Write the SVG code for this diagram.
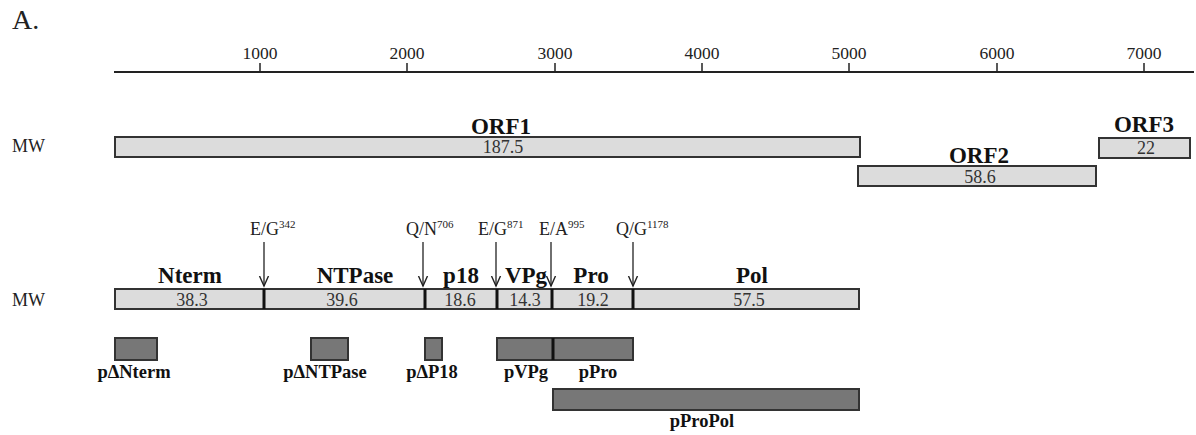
<svg xmlns="http://www.w3.org/2000/svg" width="1196" height="435" viewBox="0 0 1196 435">
<defs>
<style>
text{font-family:"Liberation Serif","Times New Roman",serif;fill:#222}
.ax{font-size:17.5px;text-anchor:middle}
.big{font-size:23px;font-weight:bold;text-anchor:middle;fill:#111}
.num{font-size:18px;text-anchor:middle;fill:#333}
.cl{font-size:18px}
.sup{font-size:11px}
.mw{font-size:18px}
.prod{font-size:18.5px;font-weight:bold;text-anchor:middle;fill:#111}
.lt{fill:#dcdcdc;stroke:#333;stroke-width:2}
.dk{fill:#777;stroke:#333;stroke-width:2}
.div{stroke:#111;stroke-width:3}
.arr{stroke:#222;stroke-width:1.3;fill:none}
</style>
<marker id="ah" markerWidth="12" markerHeight="12" refX="10" refY="5" orient="auto" markerUnits="userSpaceOnUse" viewBox="0 0 12 10">
<path d="M0,0.5 L10,5 L0,9.5" fill="none" stroke="#222" stroke-width="1.4"/>
</marker>
</defs>
<rect width="1196" height="435" fill="#fff"/>
<text x="12" y="29" style="font-size:28px">A.</text>
<g id="axis">
<line x1="114" y1="72" x2="1194" y2="72" stroke="#222" stroke-width="2.2"/>
<g stroke="#222" stroke-width="1.5">
<line x1="260" y1="63" x2="260" y2="72"/><line x1="407" y1="63" x2="407" y2="72"/><line x1="555" y1="63" x2="555" y2="72"/><line x1="702" y1="63" x2="702" y2="72"/><line x1="849" y1="63" x2="849" y2="72"/><line x1="997" y1="63" x2="997" y2="72"/><line x1="1144" y1="63" x2="1144" y2="72"/>
</g>
<text class="ax" x="260" y="59">1000</text><text class="ax" x="407" y="59">2000</text><text class="ax" x="555" y="59">3000</text><text class="ax" x="702" y="59">4000</text><text class="ax" x="849" y="59">5000</text><text class="ax" x="997" y="59">6000</text><text class="ax" x="1144" y="59">7000</text>
</g>
<text class="mw" x="12" y="152">MW</text>
<g id="orf1"><rect class="lt" x="115" y="137" width="745" height="20"/><text class="big" x="501" y="134">ORF1</text><text class="num" x="503" y="153">187.5</text></g>
<g id="orf2"><rect class="lt" x="858" y="166" width="238" height="20"/><text class="big" x="979" y="163">ORF2</text><text class="num" x="980" y="183">58.6</text></g>
<g id="orf3"><rect class="lt" x="1099" y="138" width="91" height="20"/><text class="big" x="1144" y="132">ORF3</text><text class="num" x="1146" y="154">22</text></g>
<text class="mw" x="12" y="306">MW</text>
<g id="polyprotein">
<rect class="lt" x="115" y="289" width="744" height="20"/>
<line class="div" x1="264" y1="289" x2="264" y2="309"/><line class="div" x1="425" y1="289" x2="425" y2="309"/><line class="div" x1="497" y1="289" x2="497" y2="309"/><line class="div" x1="552" y1="289" x2="552" y2="309"/><line class="div" x1="633" y1="289" x2="633" y2="309"/>
<text class="big" x="190" y="283">Nterm</text><text class="big" x="355" y="283">NTPase</text><text class="big" x="461" y="283">p18</text><text class="big" x="526" y="283">VPg</text><text class="big" x="591" y="283">Pro</text><text class="big" x="752" y="283">Pol</text>
<text class="num" x="192" y="306">38.3</text><text class="num" x="342" y="306">39.6</text><text class="num" x="460" y="306">18.6</text><text class="num" x="525" y="306">14.3</text><text class="num" x="593" y="306">19.2</text><text class="num" x="749" y="306">57.5</text>
</g>
<g id="cleavages">
<g class="arr" marker-end="url(#ah)">
<line x1="264" y1="242" x2="264" y2="286"/><line x1="423" y1="242" x2="423" y2="286"/><line x1="496" y1="242" x2="496" y2="286"/><line x1="551" y1="242" x2="551" y2="286"/><line x1="633" y1="242" x2="633" y2="286"/>
</g>
<text class="cl" x="250" y="235">E/G<tspan class="sup" dy="-7">342</tspan></text>
<text class="cl" x="406" y="235">Q/N<tspan class="sup" dy="-7">706</tspan></text>
<text class="cl" x="478" y="235">E/G<tspan class="sup" dy="-7">871</tspan></text>
<text class="cl" x="539" y="235">E/A<tspan class="sup" dy="-7">995</tspan></text>
<text class="cl" x="616" y="235">Q/G<tspan class="sup" dy="-7">1178</tspan></text>
</g>
<g id="pDNterm"><rect class="dk" x="115" y="338" width="42" height="22"/><text class="prod" x="134" y="378">pΔNterm</text></g>
<g id="pDNTPase"><rect class="dk" x="311" y="338" width="37" height="22"/><text class="prod" x="325" y="378">pΔNTPase</text></g>
<g id="pDP18"><rect class="dk" x="425" y="338" width="17" height="22"/><text class="prod" x="432" y="378">pΔP18</text></g>
<g id="pVPg"><rect class="dk" x="497" y="338" width="56" height="22"/><text class="prod" x="526" y="378">pVPg</text></g>
<g id="pPro"><rect class="dk" x="553" y="338" width="80" height="22"/><line class="div" x1="553" y1="338" x2="553" y2="360"/><text class="prod" x="598" y="378">pPro</text></g>
<g id="pProPol"><rect class="dk" x="553" y="389" width="306" height="21"/><text class="prod" x="702" y="427">pProPol</text></g>
</svg>
